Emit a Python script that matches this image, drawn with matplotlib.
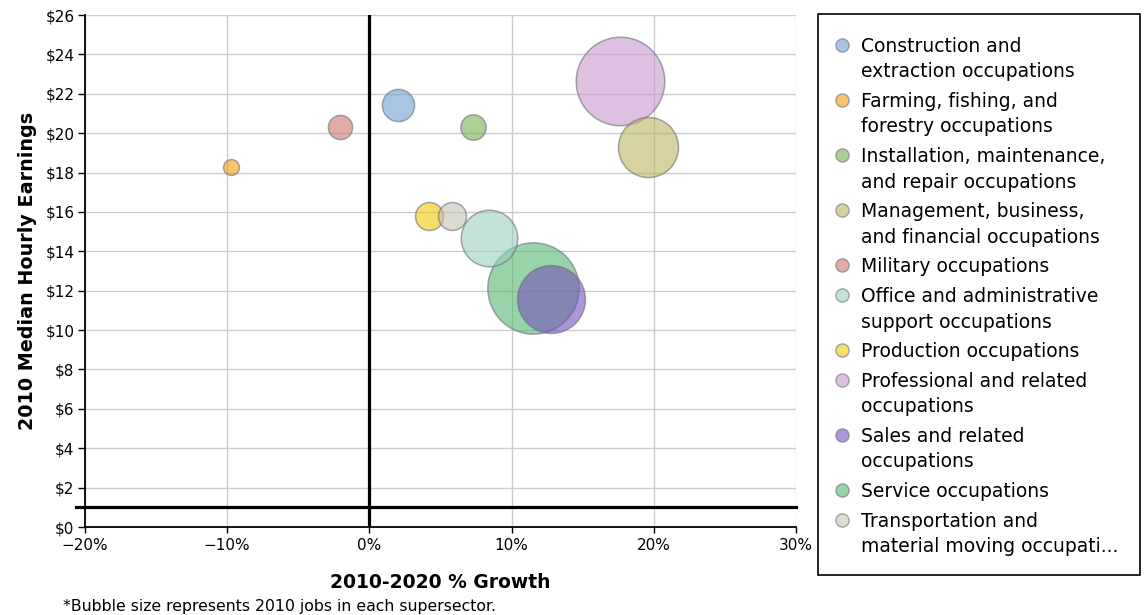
import matplotlib.pyplot as plt
from matplotlib.lines import Line2D
from matplotlib.patches import Rectangle
from matplotlib.ticker import FuncFormatter, MultipleLocator

plt.rcParams['font.family'] = ['DejaVu Sans']

occupations = [
    "Construction and\nextraction occupations",
    "Farming, fishing, and\nforestry occupations",
    "Installation, maintenance,\nand repair occupations",
    "Management, business,\nand financial occupations",
    "Military occupations",
    "Office and administrative\nsupport occupations",
    "Production occupations",
    "Professional and related\noccupations",
    "Sales and related\noccupations",
    "Service occupations",
    "Transportation and\nmaterial moving occupati...",
]
growth = [2.0, -9.7, 7.3, 19.6, -2.1, 8.4, 4.2, 17.6, 12.8, 11.5, 5.8]
earnings = [21.45, 18.3, 20.3, 19.3, 20.3, 14.7, 15.8, 22.65, 11.6, 12.15, 15.8]
jobs = [3.7, 0.9, 2.3, 12.9, 2.1, 11.4, 2.8, 28.0, 16.5, 29.8, 2.8]  # millions, approx
colors = ["#6ea0d2", "#f59e0a", "#73af4e", "#bbb65d", "#cf736e", "#9bcfbe",
          "#f3c807", "#c899cd", "#7553bb", "#53b671", "#c5c3b2"]

W, H = 1144, 615
fig = plt.figure(figsize=(W / 100, H / 100), dpi=100)
ax = fig.add_axes([85 / W, 1 - 527 / H, 711 / W, 512 / H])


def px(x, y):
    # pixel position (from top left) -> figure fraction
    return x / W, 1 - y / H


# draw biggest bubbles first so the small ones stay visible
order = sorted(range(len(jobs)), key=lambda i: -jobs[i])
for z, i in enumerate(order):
    ax.scatter(growth[i], earnings[i], s=jobs[i] * 145, color=colors[i], alpha=0.6,
               edgecolor="#6b7078", linewidth=1.1, zorder=3 + z)

ax.axvline(0, color="black", lw=2.3, zorder=2)
ax.axhline(1, color="black", lw=2.3, zorder=2, xmin=-0.012, clip_on=False)

ax.set_xlim(-20, 30)
ax.set_ylim(0, 26)
ax.xaxis.set_major_locator(MultipleLocator(10))
ax.yaxis.set_major_locator(MultipleLocator(2))
ax.xaxis.set_major_formatter(FuncFormatter(lambda v, p: f"{int(v)}%".replace("-", "\u2212")))
ax.yaxis.set_major_formatter(FuncFormatter(lambda v, p: f"${int(v)}"))
ax.grid(True, color="#cccccc", lw=1.0, zorder=0)
ax.tick_params(labelsize=11, width=1, color="black")
ax.tick_params(axis="x", length=4.5, pad=3.5)
ax.tick_params(axis="y", length=5, pad=2.5)
for side in ["top", "right"]:
    ax.spines[side].set_visible(False)
for side in ["left", "bottom"]:
    ax.spines[side].set_linewidth(1.3)

ax.set_xlabel("2010-2020 % Growth", fontsize=13.5, fontweight="bold", labelpad=14)
ax.set_ylabel("2010 Median Hourly Earnings", fontsize=13.8, fontweight="bold", labelpad=6)

fig.text(*px(63, 611), "*Bubble size represents 2010 jobs in each supersector.",
         fontsize=11.3, va="baseline")

# legend box drawn by hand so the marker sits on the first line of each label
fig.patches.append(Rectangle(px(818, 575), 322 / W, 561 / H, transform=fig.transFigure,
                             facecolor="white", edgecolor="black", lw=1.2))
line_h, gap = 25.4, 4.3
y = 45
for i, label in enumerate(occupations):
    fig.lines.append(Line2D([842 / W], [1 - y / H], transform=fig.transFigure, marker="o",
                            markersize=9.5, markerfacecolor=colors[i], alpha=0.6,
                            markeredgecolor="#6b7078", markeredgewidth=1.0, ls=""))
    for k, line in enumerate(label.split("\n")):
        fig.text(*px(861, y + 7 + k * line_h), line, fontsize=13.5, va="baseline")
    y += len(label.split("\n")) * line_h + gap

fig.savefig("out.png", dpi=100)
